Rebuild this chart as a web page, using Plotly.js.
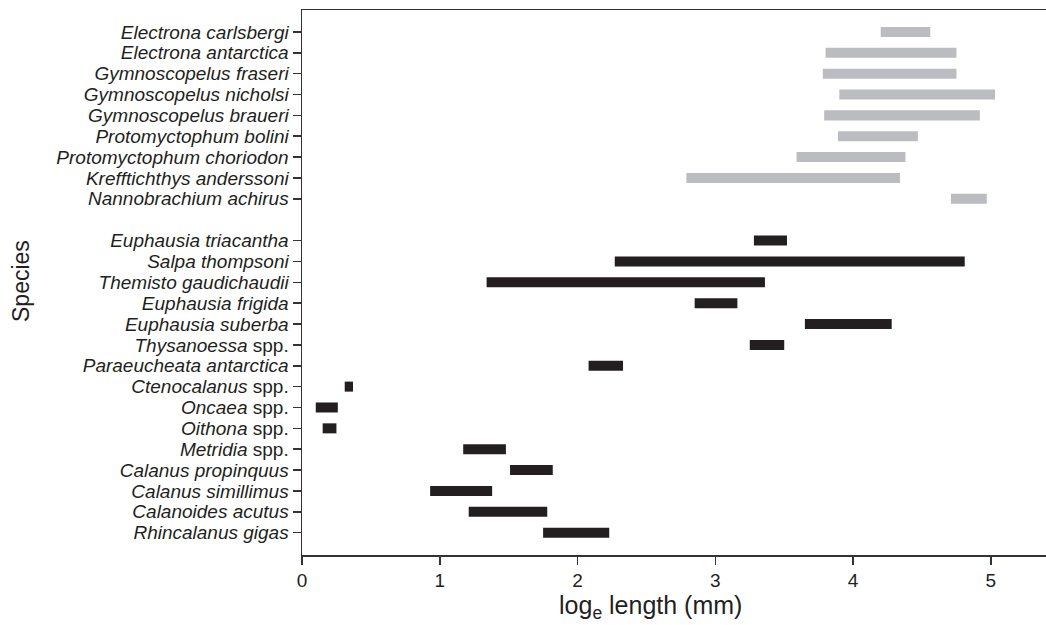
<!DOCTYPE html>
<html>
<head>
<meta charset="utf-8">
<script src="https://cdn.plot.ly/plotly-3.0.1.min.js"></script>
<style>html,body{margin:0;padding:0;background:#fff;}#chart{width:1046px;height:625px;}</style>
</head>
<body>
<div id="chart"></div>
<script>
// Fish (grey) species, top to bottom
const fishSpecies = ["Electrona carlsbergi","Electrona antarctica","Gymnoscopelus fraseri","Gymnoscopelus nicholsi","Gymnoscopelus braueri","Protomyctophum bolini","Protomyctophum choriodon","Krefftichthys anderssoni","Nannobrachium achirus"];
const fishMin = [4.20,3.80,3.78,3.90,3.79,3.89,3.59,2.79,4.71];
const fishMax = [4.56,4.75,4.75,5.03,4.92,4.47,4.38,4.34,4.97];

// Zooplankton (black) species, top to bottom
const zooSpecies = ["Euphausia triacantha","Salpa thompsoni","Themisto gaudichaudii","Euphausia frigida","Euphausia suberba","Thysanoessa spp.","Paraeucheata antarctica","Ctenocalanus spp.","Oncaea spp.","Oithona spp.","Metridia spp.","Calanus propinquus","Calanus simillimus","Calanoides acutus","Rhincalanus gigas"];
const zooMin = [3.28,2.27,1.34,2.85,3.65,3.25,2.08,0.31,0.10,0.15,1.17,1.51,0.93,1.21,1.75];
const zooMax = [3.52,4.81,3.36,3.16,4.28,3.50,2.33,0.37,0.26,0.25,1.48,1.82,1.38,1.78,2.23];

const gapCategory = "(gap)";
const xTicks = [0,1,2,3,4,5];
const xTitle = "log<sub>e</sub> length (mm)";
const yTitle = "Species";

function fmtLabel(s){
  if (s.endsWith(" spp.")) return "<i>" + s.slice(0,-5) + "</i> spp.";
  return "<i>" + s + "</i>";
}

const categories = fishSpecies.concat([gapCategory], zooSpecies);
const labelled = fishSpecies.concat(zooSpecies);

const fishTrace = {
  type: "bar", orientation: "h",
  y: fishSpecies, base: fishMin,
  x: fishMax.map((v,i)=> v - fishMin[i]),
  marker: {color: "#bbbcc0"}, width: 0.48, hoverinfo: "skip"
};
const zooTrace = {
  type: "bar", orientation: "h",
  y: zooSpecies, base: zooMin,
  x: zooMax.map((v,i)=> v - zooMin[i]),
  marker: {color: "#231f20"}, width: 0.48, hoverinfo: "skip"
};

const font = "Liberation Sans, Arial, Helvetica, sans-serif";
const layout = {
  width: 1046, height: 625,
  margin: {l: 302, r: 0, t: 10, b: 70, pad: 0},
  paper_bgcolor: "#fff", plot_bgcolor: "#fff",
  showlegend: false, barmode: "overlay",
  font: {family: font, color: "#231f20"},
  xaxis: {
    range: [0, 5.40], tickvals: xTicks, ticktext: xTicks.map(String),
    ticks: "outside", ticklen: 8, tickwidth: 1.5, tickcolor: "#333",
    showline: true, linecolor: "#333", linewidth: 1.5, mirror: true,
    showgrid: false, zeroline: false,
    tickfont: {size: 19, family: font, color: "#231f20"}
  },
  yaxis: {
    type: "category", categoryorder: "array", categoryarray: categories,
    range: [categories.length - 1 + 1.07, -1.05],
    tickmode: "array", tickvals: labelled, ticktext: labelled.map(fmtLabel),
    ticks: "outside", ticklen: 8, tickwidth: 1.5, tickcolor: "#333",
    showline: true, linecolor: "#333", linewidth: 1.5,
    showgrid: false, zeroline: false,
    tickfont: {size: 19, family: font, color: "#231f20"}
  },
  annotations: [
    {text: xTitle, xref: "paper", yref: "paper", x: (650-302)/744, y: -(607-555)/545,
     xanchor: "center", yanchor: "middle", showarrow: false,
     font: {size: 25, family: font, color: "#231f20"}},
    {text: yTitle, xref: "paper", yref: "paper", x: (21-302)/744, y: (555-281)/545,
     xanchor: "center", yanchor: "middle", showarrow: false, textangle: -90,
     font: {size: 23, family: font, color: "#231f20"}}
  ]
};

Plotly.newPlot("chart", [fishTrace, zooTrace], layout, {staticPlot: true, displayModeBar: false});
</script>
</body>
</html>
